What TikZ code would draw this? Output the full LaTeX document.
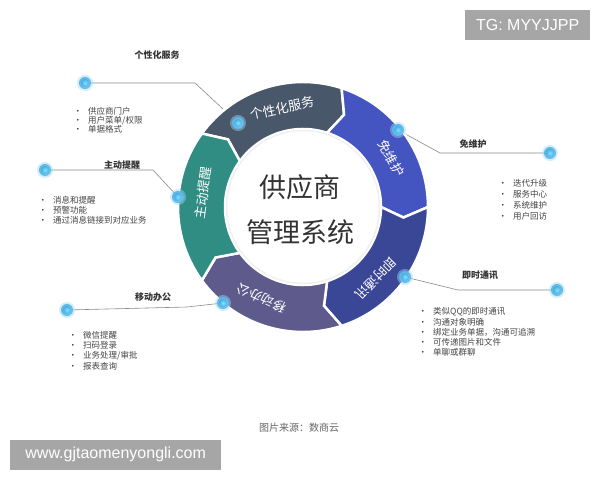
\documentclass[tikz,border=0pt]{standalone}
\usepackage{fontspec}
\setmainfont{Noto Sans CJK SC}
\newfontfamily\latin{Liberation Sans}
\usetikzlibrary{calc}
\definecolor{segGray}{HTML}{485769}
\definecolor{segBlue}{HTML}{4454C0}
\definecolor{segNavy}{HTML}{3A4796}
\definecolor{segPurple}{HTML}{5E5A8C}
\definecolor{segTeal}{HTML}{2F8D84}
\definecolor{textdark}{HTML}{333333}
\definecolor{itemgray}{HTML}{444444}
\definecolor{conngray}{HTML}{8A8A8A}
\definecolor{capgray}{HTML}{666666}
\definecolor{wmgray}{HTML}{A6A6A6}
\definecolor{dotin}{HTML}{8FDDFB}
\definecolor{dotout}{HTML}{1C97D8}
\definecolor{halo}{HTML}{9FD8F5}
\tikzset{
  conn/.style={draw=conngray, line width=0.6pt},
  dot/.style={circle, minimum size=12pt, inner sep=0pt, inner color=dotin, outer color=dotout,
     draw=halo, line width=4pt, draw opacity=0.45},
  seglabel/.style={text=white, font=\fontsize{13}{13}\selectfont, inner sep=0pt},
  title/.style={text=textdark, font=\bfseries\fontsize{9}{9}\selectfont, inner sep=0pt},
  item/.style={text=itemgray, font=\fontsize{8.5}{8.5}\selectfont, inner sep=0pt, anchor=west},
  wm/.style={fill=wmgray, text=white, inner sep=0pt, font=\latin\fontsize{16}{16}\selectfont},
}
\newcommand\ringseg[2]{%
  \fill[#2, draw=white, line width=2.5pt, line join=miter]
    (#1:125) arc[start angle=#1, end angle=#1-72, radius=125]
    -- ({#1-72-6}:101) -- ({#1-72}:78)
    arc[start angle=#1-72, end angle=#1, radius=78]
    -- ({#1-6}:101) -- cycle;}
\newcommand\itemlist[5]{% prefix, x, first y (px), step, items
  \foreach \t [count=\i] in {#5} {
    \node[item] (#1\i) at (#2, {480-#3-(\i-1)*#4}) {\makebox[0pt][r]{·\hspace{6pt}}\t};
  }}
\begin{document}
\begin{tikzpicture}[x=1pt,y=1pt]
\useasboundingbox (0,0) rectangle (600,480);
\fill[white] (0,0) rectangle (600,480);

% connector points
\coordinate (e1) at (85,397);  \coordinate (b1) at (195,397); \coordinate (g1) at (238,357);
\coordinate (g2) at (398,350); \coordinate (b2) at (440,327); \coordinate (e2) at (550,327);
\coordinate (e3) at (45,310);  \coordinate (b3) at (153,310); \coordinate (g3) at (178,283);
\coordinate (g4) at (405,203); \coordinate (b4) at (458,190); \coordinate (e4) at (557,190);
\coordinate (e5) at (67,170);  \coordinate (b5) at (187,173); \coordinate (g5) at (223,177);

\draw[conn] (e1) -- (b1) -- (g1);
\draw[conn] (g2) -- (b2) -- (e2);
\draw[conn] (e3) -- (b3) -- (g3);
\draw[conn] (g4) -- (b4) -- (e4);
\draw[conn] (e5) -- (b5) -- (g5);

% ring
\begin{scope}[shift={(303,273)}]
  \ringseg{144}{segGray}
  \ringseg{72}{segBlue}
  \ringseg{0}{segNavy}
  \ringseg{-72}{segPurple}
  \ringseg{-144}{segTeal}
  \draw[black!6, line width=1.5pt] (0,0) circle (76.5);
  \node[seglabel, rotate=12] (s1) at (102:101) {个性化服务};
  \node[seglabel, rotate=-61] (s2) at (29:101) {免维护};
  \node[seglabel, rotate=-134.6] (s3) at (-44.6:102) {即时通讯};
  \node[seglabel, rotate=155.5] (s4) at (-114.5:100) {移动办公};
  \node[seglabel, rotate=82] (s5) at (172:101) {主动提醒};
\end{scope}

% center text
\node[text=textdark, font=\fontsize{27}{27}\selectfont, inner sep=0pt] (c1) at (300,293) {供应商};
\node[text=textdark, font=\fontsize{27}{27}\selectfont, inner sep=0pt] (c2) at (300,248) {管理系统};

% dots
\foreach \p in {e1,g1,g2,e2,e3,g3,g4,e4,e5,g5} { \node[dot] (n\p) at (\p) {}; }

% titles
\node[title] (h1) at (157,425) {个性化服务};
\node[title] (h2) at (473,336) {免维护};
\node[title] (h3) at (122,315) {主动提醒};
\node[title] (h4) at (480,205) {即时通讯};
\node[title] (h5) at (153,183) {移动办公};

% lists
\itemlist{ia}{88}{111}{9.2}{供应商门户,用户菜单/权限,单据格式}
\itemlist{ib}{513}{183}{11}{迭代升级,服务中心,系统维护,用户回访}
\itemlist{ic}{53}{200}{10.3}{消息和提醒,预警功能,通过消息链接到对应业务}
\itemlist{id}{433}{312}{10}{类似QQ的即时通讯,沟通对象明确,绑定业务单据，沟通可追溯,可传递图片和文件,单聊或群聊}
\itemlist{ie}{83}{335}{10.4}{微信提醒,扫码登录,业务处理/审批,报表查询}

% caption
\node[text=capgray, font=\fontsize{10}{10}\selectfont, inner sep=0pt] (cap) at (299,52) {图片来源：数商云};

% watermarks
\node[wm, minimum width=125pt, minimum height=30pt, anchor=south west] (tg) at (465,440) {TG: MYYJJPP};
\node[wm, minimum width=211pt, minimum height=30pt, anchor=south west] (www) at (10,10) {www.gjtaomenyongli.com};
\end{tikzpicture}
\end{document}
